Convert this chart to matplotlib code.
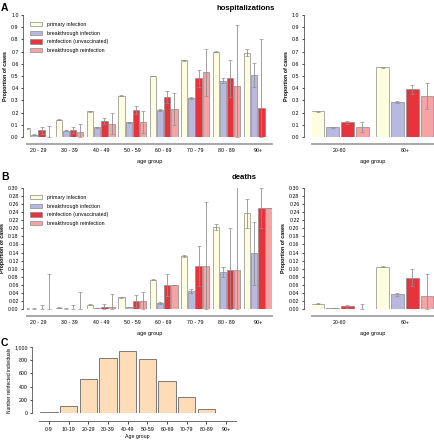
import matplotlib.pyplot as plt
import numpy as np
from matplotlib.patches import Patch

# ---- dane ----
age_groups = ["20 - 29", "30 - 39", "40 - 49", "50 - 59", "60 - 69", "70 - 79", "80 - 89", "90+"]
age_groups_short = ["20-60", "60+"]
series_names = ["primary infection", "breakthrough infection",
                "reinfection (unvaccinated)", "breakthrough reinfection"]

# A: hospitalizacje
hosp_primary = [0.07, 0.14, 0.21, 0.34, 0.50, 0.63, 0.70, 0.69]
hosp_primary_err = [0.004, 0.004, 0.004, 0.004, 0.004, 0.005, 0.005, 0.03]
hosp_breakthrough = [0.02, 0.05, 0.08, 0.12, 0.22, 0.32, 0.46, 0.51]
hosp_breakthrough_err = [0.004, 0.004, 0.005, 0.005, 0.006, 0.01, 0.02, 0.1]
hosp_reinf = [0.055, 0.06, 0.13, 0.22, 0.33, 0.48, 0.48, 0.24]
hosp_reinf_err = [0.03, 0.025, 0.025, 0.035, 0.05, 0.07, 0.15, 0.56]
hosp_bt_reinf = [0.0, 0.04, 0.11, 0.12, 0.23, 0.53, 0.42, np.nan]
hosp_bt_reinf_err = [0.09, 0.07, 0.085, 0.09, 0.13, 0.19, 0.50, np.nan]

hosp2_primary = [0.21, 0.57]
hosp2_primary_err = [0.003, 0.004]
hosp2_breakthrough = [0.08, 0.285]
hosp2_breakthrough_err = [0.003, 0.006]
hosp2_reinf = [0.12, 0.39]
hosp2_reinf_err = [0.015, 0.04]
hosp2_bt_reinf = [0.08, 0.335]
hosp2_bt_reinf_err = [0.04, 0.105]

# B: zgony
death_primary = [0.001, 0.003, 0.011, 0.029, 0.073, 0.132, 0.203, 0.237]
death_primary_err = [0.0005, 0.001, 0.001, 0.001, 0.002, 0.003, 0.007, 0.035]
death_breakthrough = [0.001, 0.001, 0.002, 0.005, 0.015, 0.045, 0.092, 0.138]
death_breakthrough_err = [0.0005, 0.0005, 0.0005, 0.001, 0.003, 0.005, 0.013, 0.078]
death_reinf = [0.0, 0.001, 0.004, 0.020, 0.060, 0.106, 0.097, 0.25]
death_reinf_err = [0.01, 0.008, 0.008, 0.015, 0.028, 0.05, 0.105, 0.05]
death_bt_reinf = [0.0, 0.001, 0.004, 0.020, 0.060, 0.106, 0.097, 0.25]
death_bt_reinf_err = [0.087, 0.04, 0.034, 0.022, 0.0, 0.16, 0.21, 0.0]

death2_primary = [0.013, 0.105]
death2_primary_err = [0.001, 0.001]
death2_breakthrough = [0.003, 0.036]
death2_breakthrough_err = [0.0005, 0.003]
death2_reinf = [0.007, 0.078]
death2_reinf_err = [0.004, 0.022]
death2_bt_reinf = [0.0, 0.031]
death2_bt_reinf_err = [0.013, 0.057]

# C: liczba reinfekcji
c_groups = ["0-9", "10-19", "20-29", "30-39", "40-49", "50-59", "60-69", "70-79", "80-89", "90+"]
c_counts = [15, 110, 520, 840, 940, 820, 485, 245, 65, 5]

colors = ["#fdfde0", "#b9b8e0", "#e8323c", "#f6a3a5"]
EDGE = "#8a8a8a"
ERR = "#8f8f8f"
FS = 3.8

plt.rcParams["font.family"] = ["Liberation Sans", "DejaVu Sans"]


def style_axes(ax, left_off, bottom_off):
  for s in ("top", "right"):
    ax.spines[s].set_visible(False)
  ax.spines["left"].set_position(("outward", left_off))
  ax.spines["bottom"].set_position(("outward", bottom_off))
  ax.spines["left"].set_linewidth(0.5)
  ax.spines["left"].set_color("#333333")
  ax.spines["bottom"].set_linewidth(1.3)
  ax.spines["bottom"].set_color("#a0a0a0")
  ax.tick_params(axis="both", labelsize=FS, length=1.8, width=0.5, pad=1.2)
  ax.tick_params(axis="x", length=0, pad=3)


def grouped(ax, vals, errs, nticks, labels, ymax, step, fmt):
  x = np.arange(nticks)
  w, gap = 0.2, 0.028
  for i in range(4):
    v = np.array(vals[i], dtype=float)
    e = np.array(errs[i], dtype=float)
    pos = x + (i - 1.5) * (w + gap)
    ok = ~np.isnan(v)
    ax.bar(pos[ok], v[ok], width=w, color=colors[i], edgecolor=EDGE, linewidth=0.5, zorder=2)
    lo = np.minimum(e[ok], v[ok])
    ax.errorbar(pos[ok], v[ok], yerr=[lo, e[ok]], fmt="none", ecolor=ERR,
                elinewidth=0.6, capsize=1.1, capthick=0.5, zorder=3)
  ax.set_xticks(x)
  ax.set_xticklabels(labels)
  ax.set_ylim(0, ymax)
  ticks = np.arange(0, ymax + step / 2, step)
  ax.set_yticks(ticks)
  ax.set_yticklabels([fmt.format(t) for t in ticks])
  ax.set_ylabel("Proportion of cases", fontsize=FS, fontweight="bold", labelpad=2)
  ax.set_xlabel("age group", fontsize=FS + 0.3, labelpad=4)


def legend(ax):
  handles = [Patch(facecolor=c, edgecolor=EDGE, linewidth=0.5) for c in colors]
  ax.legend(handles, series_names, loc="upper left", bbox_to_anchor=(0.0, 0.97),
            fontsize=FS, frameon=False, handlelength=2.2, handleheight=0.9,
            labelspacing=0.7, handletextpad=1.0, borderaxespad=0.2)


def main() -> None:
  fig = plt.figure(figsize=(4.34, 4.40), dpi=100)

  # A lewy
  axA = fig.add_axes([27 / 434, 1 - 137 / 440, 245 / 434, 122 / 440])
  grouped(axA, [hosp_primary, hosp_breakthrough, hosp_reinf, hosp_bt_reinf],
          [hosp_primary_err, hosp_breakthrough_err, hosp_reinf_err, hosp_bt_reinf_err],
          8, age_groups, 1.0, 0.1, "{:.1f}")
  axA.set_xlim(-0.35, 7.45)
  style_axes(axA, 3, 5)
  legend(axA)

  # A prawy
  axA2 = fig.add_axes([312 / 434, 1 - 137 / 440, 122 / 434, 122 / 440])
  grouped(axA2, [hosp2_primary, hosp2_breakthrough, hosp2_reinf, hosp2_bt_reinf],
          [hosp2_primary_err, hosp2_breakthrough_err, hosp2_reinf_err, hosp2_bt_reinf_err],
          2, age_groups_short, 1.0, 0.1, "{:.1f}")
  axA2.set_xlim(-0.43, 1.45)
  style_axes(axA2, 6, 5)

  # B lewy
  axB = fig.add_axes([27 / 434, 1 - 309 / 440, 245 / 434, 121 / 440])
  grouped(axB, [death_primary, death_breakthrough, death_reinf, death_bt_reinf],
          [death_primary_err, death_breakthrough_err, death_reinf_err, death_bt_reinf_err],
          8, age_groups, 0.30, 0.02, "{:.2f}")
  axB.set_xlim(-0.35, 7.45)
  style_axes(axB, 3, 5)
  legend(axB)

  # B prawy
  axB2 = fig.add_axes([312 / 434, 1 - 309 / 440, 122 / 434, 121 / 440])
  grouped(axB2, [death2_primary, death2_breakthrough, death2_reinf, death2_bt_reinf],
          [death2_primary_err, death2_breakthrough_err, death2_reinf_err, death2_bt_reinf_err],
          2, age_groups_short, 0.30, 0.02, "{:.2f}")
  axB2.set_xlim(-0.43, 1.45)
  style_axes(axB2, 6, 5)

  # C
  axC = fig.add_axes([39 / 434, 1 - 413 / 440, 197 / 434, 66 / 440])
  xc = np.arange(len(c_groups))
  axC.bar(xc, c_counts, width=0.88, color="#ffdcb8", edgecolor="#7a7a7a", linewidth=0.7, zorder=2)
  axC.set_xlim(-0.5, len(c_groups) - 0.5)
  axC.set_ylim(0, 1000)
  axC.set_yticks([0, 200, 400, 600, 800, 1000])
  axC.set_yticklabels(["0", "200", "400", "600", "800", "1,000"])
  axC.set_xticks(xc)
  axC.set_xticklabels(c_groups)
  style_axes(axC, 5, 6)
  axC.spines["bottom"].set_color("#555555")
  axC.spines["bottom"].set_linewidth(0.6)
  axC.tick_params(axis="x", length=1.8, width=0.5, pad=2)
  axC.set_ylabel("Number reinfected individuals", fontsize=FS - 0.3, labelpad=2)
  axC.set_xlabel("Age group", fontsize=FS, labelpad=2)

  # tytuły i litery paneli
  fig.text(246 / 434, 1 - 8 / 440, "hospitalizations", fontsize=5.6, fontweight="bold",
           ha="center", va="center")
  fig.text(244 / 434, 1 - 177 / 440, "deaths", fontsize=5.6, fontweight="bold",
           ha="center", va="center")
  for letter, y in (("A", 8), ("B", 177), ("C", 343)):
    fig.text(1 / 434, 1 - y / 440, letter, fontsize=7.5, fontweight="bold",
             ha="left", va="center")

  fig.savefig("out.png", dpi=100)


if __name__ == "__main__":
  main()
